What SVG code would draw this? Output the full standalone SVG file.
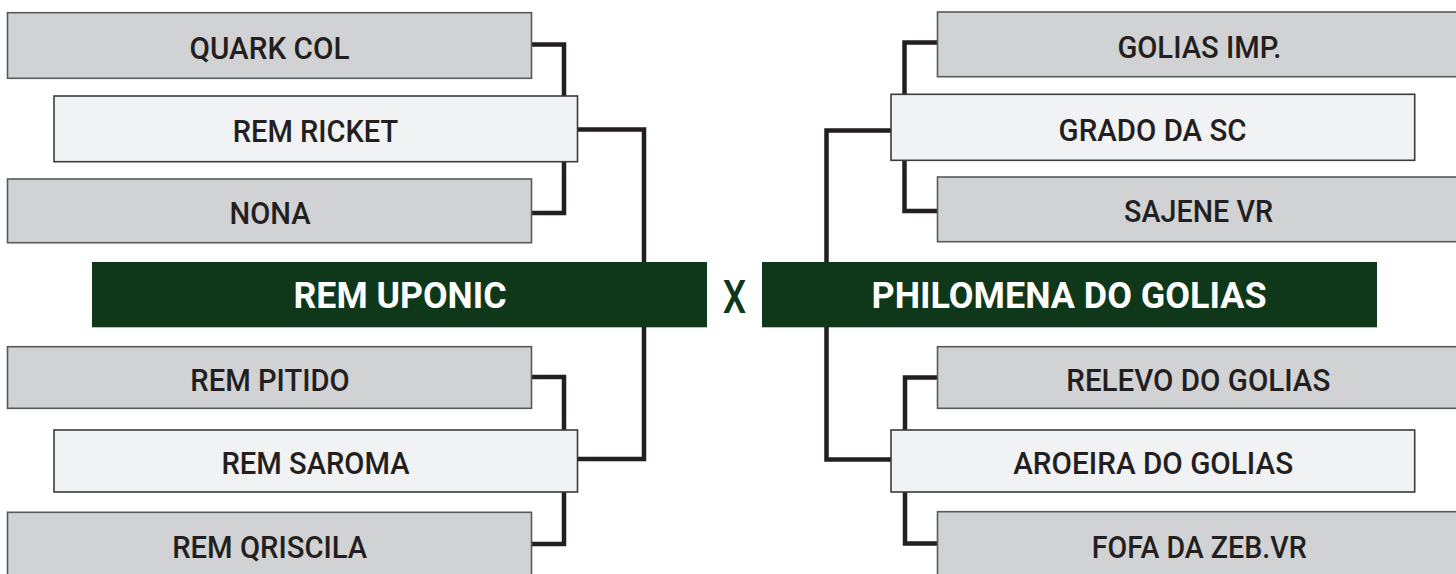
<svg xmlns="http://www.w3.org/2000/svg" width="1456" height="574" viewBox="0 0 1456 574">
<style>
.g{fill:#d1d2d4;stroke:#58595b;stroke-width:1.6}
.l{fill:#f1f2f4;stroke:#3a3a3c;stroke-width:1.6}
.w{fill:#0f381b}
.t{font-family:Roboto,"Liberation Sans",sans-serif;font-weight:500;font-size:32px;fill:#231f20;text-anchor:middle}
.h{font-family:Roboto,"Liberation Sans",sans-serif;font-weight:700;font-size:37.5px;fill:#ffffff;text-anchor:middle}
.x{font-family:Roboto,"Liberation Sans",sans-serif;font-weight:500;font-size:47px;fill:#0f381b;text-anchor:middle}
.c{fill:none;stroke:#231f20;stroke-width:4.5;stroke-linejoin:miter;stroke-linecap:butt}
</style>
<rect width="1456" height="574" fill="#ffffff"/>
<g id="connectors">
<path class="c" d="M531,44.5 H564 V96"/>
<path class="c" d="M531,213 H564 V162"/>
<path class="c" d="M577,129.5 H644 V262"/>
<path class="c" d="M531,377 H564 V430"/>
<path class="c" d="M531,544 H564 V492"/>
<path class="c" d="M577,459 H644 V327"/>
<path class="c" d="M938,42.5 H904.5 V94"/>
<path class="c" d="M938,211 H904.5 V160"/>
<path class="c" d="M891,130.5 H826.5 V262"/>
<path class="c" d="M938,377.5 H905 V430"/>
<path class="c" d="M938,543.5 H905 V492"/>
<path class="c" d="M891,459.5 H826.5 V327"/>
</g>
<g id="quark-col"><rect class="g" x="7.5" y="12.7" width="524" height="65.6"/><text class="t" x="269.5" y="58.5" textLength="160" lengthAdjust="spacingAndGlyphs">QUARK COL</text></g>
<g id="rem-ricket"><rect class="l" x="54" y="96" width="523.5" height="65.7"/><text class="t" x="315.5" y="142.3" textLength="165.5" lengthAdjust="spacingAndGlyphs">REM RICKET</text></g>
<g id="nona"><rect class="g" x="7.5" y="179" width="524" height="63.7"/><text class="t" x="270" y="224" textLength="81" lengthAdjust="spacingAndGlyphs">NONA</text></g>
<g id="rem-uponic"><rect class="w" x="92" y="262" width="615" height="65.3"/><text class="h" x="400" y="308.3" textLength="213" lengthAdjust="spacingAndGlyphs">REM UPONIC</text></g>
<g id="versus"><text class="x" x="734.4" y="313.3" textLength="23.5" lengthAdjust="spacingAndGlyphs">X</text></g>
<g id="philomena-do-golias"><rect class="w" x="762" y="262" width="615" height="65.3"/><text class="h" x="1069" y="308.3" textLength="395" lengthAdjust="spacingAndGlyphs">PHILOMENA DO GOLIAS</text></g>
<g id="rem-pitido"><rect class="g" x="7.5" y="346.7" width="524" height="61.6"/><text class="t" x="270" y="390.7" textLength="159.5" lengthAdjust="spacingAndGlyphs">REM PITIDO</text></g>
<g id="rem-saroma"><rect class="l" x="54" y="430" width="523.5" height="62"/><text class="t" x="315.5" y="474" textLength="188" lengthAdjust="spacingAndGlyphs">REM SAROMA</text></g>
<g id="rem-qriscila"><rect class="g" x="7.5" y="512.3" width="524" height="66"/><text class="t" x="269.7" y="557.8" textLength="195" lengthAdjust="spacingAndGlyphs">REM QRISCILA</text></g>
<g id="golias-imp"><rect class="g" x="937.5" y="12" width="524" height="64.7"/><text class="t" x="1199.4" y="57.5" textLength="164" lengthAdjust="spacingAndGlyphs">GOLIAS IMP.</text></g>
<g id="grado-da-sc"><rect class="l" x="891" y="94.3" width="523.7" height="66"/><text class="t" x="1152.6" y="140.5" textLength="188" lengthAdjust="spacingAndGlyphs">GRADO DA SC</text></g>
<g id="sajene-vr"><rect class="g" x="937.5" y="177" width="524" height="64.7"/><text class="t" x="1198.5" y="222.3" textLength="149" lengthAdjust="spacingAndGlyphs">SAJENE VR</text></g>
<g id="relevo-do-golias"><rect class="g" x="937.5" y="346.7" width="524" height="61.6"/><text class="t" x="1198.3" y="390.7" textLength="264" lengthAdjust="spacingAndGlyphs">RELEVO DO GOLIAS</text></g>
<g id="aroeira-do-golias"><rect class="l" x="891" y="430" width="523.7" height="62"/><text class="t" x="1153.2" y="474" textLength="280" lengthAdjust="spacingAndGlyphs">AROEIRA DO GOLIAS</text></g>
<g id="fofa-da-zeb-vr"><rect class="g" x="937.5" y="511.7" width="524" height="66"/><text class="t" x="1199.2" y="558.3" textLength="215" lengthAdjust="spacingAndGlyphs">FOFA DA ZEB.VR</text></g>
</svg>
